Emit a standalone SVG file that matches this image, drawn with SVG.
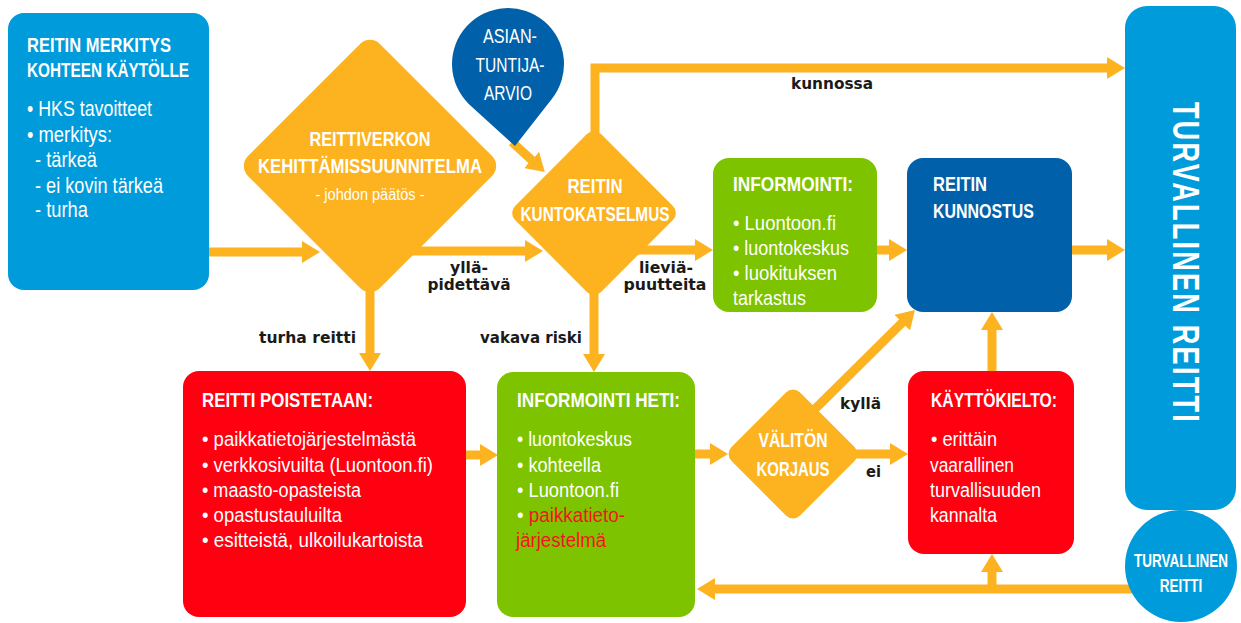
<svg xmlns="http://www.w3.org/2000/svg" width="1241" height="623" viewBox="0 0 1241 623">
<style>
.t{font-family:"Liberation Sans Narrow","Liberation Sans",sans-serif;font-weight:bold;fill:#fff}
.b{font-family:"Liberation Sans Narrow","Liberation Sans",sans-serif;fill:#fff}
.l{font-family:"DejaVu Sans","Liberation Sans",sans-serif;font-weight:bold;fill:#1a1a1a;font-size:15.5px}
.c{fill:none;stroke:#FDB21F;stroke-width:9;marker-end:url(#ah)}
.lb{fill:#009BDA}.db{fill:#0060A9}.gr{fill:#7DC300}.rd{fill:#FE0010}.or{fill:#FDB21F}
</style>
<defs>
<marker id="ah" markerUnits="userSpaceOnUse" viewBox="0 0 18 22" refX="6" refY="11" markerWidth="18" markerHeight="22" orient="auto">
<path d="M0,0 L18,11 L0,22 Z" fill="#FDB21F"/>
</marker>
</defs>
<rect width="1241" height="623" fill="#fff"/>
<g id="connectors">
<path class="c" d="M209,252 H308"/>
<path class="c" d="M405,251 H531"/>
<path class="c" d="M630,250 H701"/>
<path class="c" d="M877,250 H895"/>
<path class="c" d="M1072,250 H1113"/>
<path class="c" d="M595,150 V68 H1113"/>
<path class="c" d="M512,142 L536,164"/>
<path class="c" d="M370,280 V359"/>
<path class="c" d="M594,280 V360"/>
<path class="c" d="M466,455 H486"/>
<path class="c" d="M695,454 H716"/>
<path class="c" d="M850,454 H896"/>
<path class="c" d="M812,412 L906.5,318.4"/>
<path class="c" d="M992,371 V324"/>
<path class="c" d="M1135,589 H709"/>
<path class="c" d="M992,589 V566"/>
</g>
<g id="labels">
<text class="l" x="469" y="273" text-anchor="middle" textLength="38" lengthAdjust="spacingAndGlyphs">yllä-</text>
<text class="l" x="469" y="290" text-anchor="middle" textLength="83" lengthAdjust="spacingAndGlyphs">pidettävä</text>
<text class="l" x="666" y="273" text-anchor="middle" textLength="54" lengthAdjust="spacingAndGlyphs">lieviä-</text>
<text class="l" x="665" y="290" text-anchor="middle" textLength="83" lengthAdjust="spacingAndGlyphs">puutteita</text>
<text class="l" x="791" y="89" textLength="82" lengthAdjust="spacingAndGlyphs">kunnossa</text>
<text class="l" x="259" y="343" textLength="97" lengthAdjust="spacingAndGlyphs">turha reitti</text>
<text class="l" x="480" y="343" textLength="102" lengthAdjust="spacingAndGlyphs">vakava riski</text>
<text class="l" x="840" y="409" textLength="41" lengthAdjust="spacingAndGlyphs">kyllä</text>
<text class="l" x="866" y="477" textLength="15" lengthAdjust="spacingAndGlyphs">ei</text>
</g>
<g id="merkitys">
<rect class="lb" x="8" y="13" width="201" height="277" rx="16"/>
<text class="t" font-size="21" x="27" y="52" textLength="144" lengthAdjust="spacingAndGlyphs">REITIN MERKITYS</text>
<text class="t" font-size="21" x="27" y="77" textLength="162" lengthAdjust="spacingAndGlyphs">KOHTEEN KÄYTÖLLE</text>
<text class="b" font-size="22" x="27" y="116" textLength="125" lengthAdjust="spacingAndGlyphs">• HKS tavoitteet</text>
<text class="b" font-size="22" x="27" y="142" textLength="85" lengthAdjust="spacingAndGlyphs">• merkitys:</text>
<text class="b" font-size="22" x="35" y="167" textLength="62" lengthAdjust="spacingAndGlyphs">- tärkeä</text>
<text class="b" font-size="22" x="35" y="193" textLength="128" lengthAdjust="spacingAndGlyphs">- ei kovin tärkeä</text>
<text class="b" font-size="22" x="35" y="217" textLength="53" lengthAdjust="spacingAndGlyphs">- turha</text>
</g>
<g id="kehittamis">
<rect class="or" x="-93.3" y="-93.3" width="186.6" height="186.6" rx="14" transform="translate(370,166) rotate(45)"/>
<text class="t" font-size="20.5" x="370" y="146" text-anchor="middle" textLength="121" lengthAdjust="spacingAndGlyphs">REITTIVERKON</text>
<text class="t" font-size="20.5" x="370" y="173" text-anchor="middle" textLength="224" lengthAdjust="spacingAndGlyphs">KEHITTÄMISSUUNNITELMA</text>
<text class="b" font-size="16" x="370" y="200" text-anchor="middle" textLength="109" lengthAdjust="spacingAndGlyphs">- johdon päätös -</text>
</g>
<g id="asiantuntija">
<path class="db" d="M469,104.2 A56,56 0 1 1 551.6,99.2 L515,146 Z"/>
<text class="b" font-size="20" x="510" y="43" text-anchor="middle" textLength="54" lengthAdjust="spacingAndGlyphs">ASIAN-</text>
<text class="b" font-size="20" x="510" y="72" text-anchor="middle" textLength="69" lengthAdjust="spacingAndGlyphs">TUNTIJA-</text>
<text class="b" font-size="20" x="508" y="100" text-anchor="middle" textLength="48" lengthAdjust="spacingAndGlyphs">ARVIO</text>
</g>
<g id="kuntokatselmus">
<rect class="or" x="-60.8" y="-60.8" width="121.6" height="121.6" rx="10" transform="translate(594,213) rotate(45)"/>
<text class="t" font-size="20.5" x="595" y="193" text-anchor="middle" textLength="55" lengthAdjust="spacingAndGlyphs">REITIN</text>
<text class="t" font-size="20.5" x="595" y="221" text-anchor="middle" textLength="149" lengthAdjust="spacingAndGlyphs">KUNTOKATSELMUS</text>
</g>
<g id="informointi">
<rect class="gr" x="713" y="158" width="164" height="154" rx="16"/>
<text class="t" font-size="20.5" x="733" y="191" textLength="120" lengthAdjust="spacingAndGlyphs">INFORMOINTI:</text>
<text class="b" font-size="21" x="733" y="230" textLength="103" lengthAdjust="spacingAndGlyphs">• Luontoon.fi</text>
<text class="b" font-size="21" x="733" y="255" textLength="116" lengthAdjust="spacingAndGlyphs">• luontokeskus</text>
<text class="b" font-size="21" x="733" y="280" textLength="104" lengthAdjust="spacingAndGlyphs">• luokituksen</text>
<text class="b" font-size="21" x="733" y="305" textLength="73" lengthAdjust="spacingAndGlyphs">tarkastus</text>
</g>
<g id="kunnostus">
<rect class="db" x="907" y="158" width="165" height="154" rx="16"/>
<text class="t" font-size="20.5" x="933" y="191" textLength="54" lengthAdjust="spacingAndGlyphs">REITIN</text>
<text class="t" font-size="20.5" x="933" y="218" textLength="101" lengthAdjust="spacingAndGlyphs">KUNNOSTUS</text>
</g>
<g id="turvallinen">
<rect class="lb" x="1125" y="6" width="111" height="504" rx="22"/>
<text class="t" font-size="36" transform="translate(1173,263) rotate(90)" text-anchor="middle" textLength="322" lengthAdjust="spacingAndGlyphs" letter-spacing="3">TURVALLINEN REITTI</text>
</g>
<g id="turvallinen-ympyra">
<circle class="lb" cx="1181" cy="566" r="56"/>
<text class="t" font-size="18" text-anchor="middle" transform="translate(1181,567) scale(0.75,1)">TURVALLINEN</text>
<text class="t" font-size="18" text-anchor="middle" transform="translate(1181,592) scale(0.75,1)">REITTI</text>
</g>
<g id="poistetaan">
<rect class="rd" x="183" y="371" width="283" height="246" rx="16"/>
<text class="t" font-size="20" x="202" y="407" textLength="171" lengthAdjust="spacingAndGlyphs">REITTI POISTETAAN:</text>
<text class="b" font-size="19.5" x="202" y="446" textLength="214" lengthAdjust="spacingAndGlyphs">• paikkatietojärjestelmästä</text>
<text class="b" font-size="19.5" x="202" y="472" textLength="231" lengthAdjust="spacingAndGlyphs">• verkkosivuilta (Luontoon.fi)</text>
<text class="b" font-size="19.5" x="202" y="497" textLength="159" lengthAdjust="spacingAndGlyphs">• maasto-opasteista</text>
<text class="b" font-size="19.5" x="202" y="522" textLength="140" lengthAdjust="spacingAndGlyphs">• opastustauluilta</text>
<text class="b" font-size="19.5" x="202" y="547" textLength="221" lengthAdjust="spacingAndGlyphs">• esitteistä, ulkoilukartoista</text>
</g>
<g id="informointi-heti">
<rect class="gr" x="497" y="372" width="198" height="245" rx="16"/>
<text class="t" font-size="20" x="517" y="407" textLength="163" lengthAdjust="spacingAndGlyphs">INFORMOINTI HETI:</text>
<text class="b" font-size="19.5" x="517" y="446" textLength="115" lengthAdjust="spacingAndGlyphs">• luontokeskus</text>
<text class="b" font-size="19.5" x="517" y="472" textLength="84" lengthAdjust="spacingAndGlyphs">• kohteella</text>
<text class="b" font-size="19.5" x="517" y="497" textLength="102" lengthAdjust="spacingAndGlyphs">• Luontoon.fi</text>
<text class="b" font-size="19.5" x="517" y="522" textLength="108" lengthAdjust="spacingAndGlyphs">• <tspan style="fill:#F5141E">paikkatieto-</tspan></text>
<text class="b" font-size="19.5" x="516" y="547" textLength="90" lengthAdjust="spacingAndGlyphs" style="fill:#F5141E">järjestelmä</text>
</g>
<g id="valiton">
<rect class="or" x="-48.5" y="-48.5" width="97" height="97" rx="10" transform="translate(793,454) rotate(45)"/>
<text class="t" font-size="20" x="793" y="447" text-anchor="middle" textLength="69" lengthAdjust="spacingAndGlyphs">VÄLITÖN</text>
<text class="t" font-size="20" x="793" y="476" text-anchor="middle" textLength="73" lengthAdjust="spacingAndGlyphs">KORJAUS</text>
</g>
<g id="kayttokielto">
<rect class="rd" x="908" y="371" width="166" height="183" rx="16"/>
<text class="t" font-size="20" x="931" y="407" textLength="126" lengthAdjust="spacingAndGlyphs">KÄYTTÖKIELTO:</text>
<text class="b" font-size="19.5" x="931" y="446" textLength="66" lengthAdjust="spacingAndGlyphs">• erittäin</text>
<text class="b" font-size="19.5" x="930" y="472" textLength="84" lengthAdjust="spacingAndGlyphs">vaarallinen</text>
<text class="b" font-size="19.5" x="930" y="497" textLength="111" lengthAdjust="spacingAndGlyphs">turvallisuuden</text>
<text class="b" font-size="19.5" x="930" y="522" textLength="67" lengthAdjust="spacingAndGlyphs">kannalta</text>
</g>
</svg>
